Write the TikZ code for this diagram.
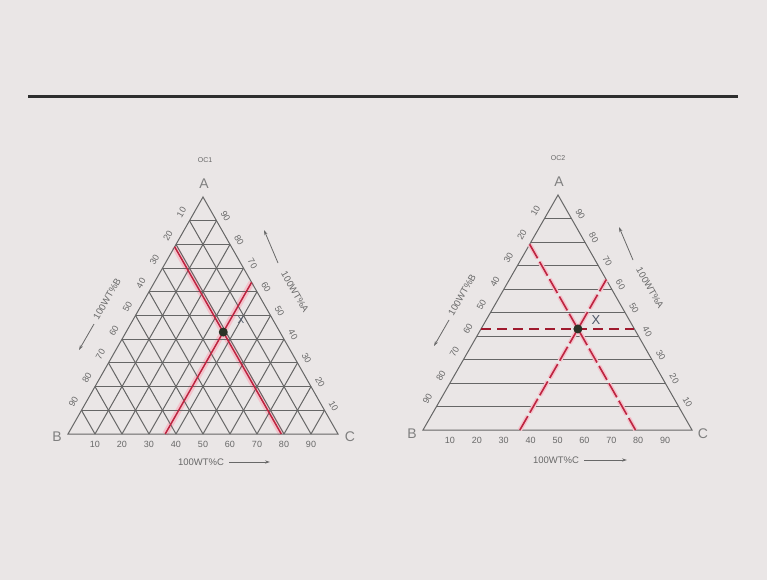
\documentclass[tikz,border=0pt]{standalone}
\usepackage{fontspec}
\setmainfont{Liberation Sans}
\usetikzlibrary{calc,arrows.meta}
\definecolor{bg}{HTML}{EAE6E6}
\definecolor{rulec}{HTML}{2E2E2E}
\definecolor{gridc}{HTML}{666666}
\definecolor{txt}{HTML}{686868}
\definecolor{redc}{HTML}{BE2440}
\definecolor{pinkc}{HTML}{F3C2CB}
\definecolor{darkred}{HTML}{A01A2E}
\definecolor{dotc}{HTML}{2B3326}
\definecolor{xc}{HTML}{4E5868}
\begin{document}
\begin{tikzpicture}[x=1pt,y=-1pt,
  gridline/.style={draw=gridc,line width=1pt},
  numlbl/.style={text=txt,font=\fontsize{9}{9}\selectfont,inner sep=0pt},
  vtx/.style={text=txt!85,font=\fontsize{14}{14}\selectfont,inner sep=0pt},
  capt/.style={text=txt,font=\fontsize{9.5}{9.5}\selectfont,inner sep=0pt},
  ttl/.style={text=txt,font=\fontsize{7}{7}\selectfont,inner sep=0pt},
  capar/.style={draw=txt,line width=0.8pt,-{Stealth[length=5pt,width=3.2pt]}},
  glow/.style={draw=pinkc,line width=6pt},
  redl/.style={draw=redc,line width=1.5pt},
  dashglow/.style={draw=pinkc,line width=4.5pt,dash pattern=on 16pt off 4pt},
  dashred/.style={draw=redc,line width=1.6pt,dash pattern=on 16pt off 4pt},
  hdash/.style={draw=darkred,line width=2.6pt,dash pattern=on 10pt off 6pt},
  dotn/.style={circle,fill=dotc,minimum size=9pt,inner sep=0pt},
  xlbl/.style={text=xc,inner sep=0pt}
]
\fill[bg] (0,0) rectangle (767,580);
\useasboundingbox (0,0) rectangle (767,580);
\draw[draw=rulec,line width=3pt] (28,97) -- (738,97);

% ---------- left triangle ----------
\coordinate (A1) at (203,197);
\coordinate (B1) at (68,434);
\coordinate (C1) at (338,434);
\coordinate (r1a) at ($(A1)!0.21!(B1)$);
\coordinate (r1b) at ($(C1)!0.21!(B1)$);
\coordinate (r1c) at ($(A1)!0.36!(C1)$);
\coordinate (r1d) at ($(B1)!0.36!(C1)$);
\draw[glow] (r1a) -- (r1b);
\draw[glow] (r1c) -- (r1d);
\foreach \i in {1,...,9} {
  \draw[gridline] ($(B1)!\i/10!(A1)$) -- ($(C1)!\i/10!(A1)$);
  \draw[gridline] ($(A1)!\i/10!(B1)$) -- ($(C1)!\i/10!(B1)$);
  \draw[gridline] ($(A1)!\i/10!(C1)$) -- ($(B1)!\i/10!(C1)$);
}
\draw[gridline] (A1) -- (B1) -- (C1) -- cycle;
\foreach \i [evaluate=\i as \v using int(\i*10)] in {1,...,9} {
  \node[numlbl,rotate=60] (lb1\i) at ($(A1)!\i/10!(B1)+(-8,-8.5)$) {\v};
  \node[numlbl,rotate=-60] (rb1\i) at ($(C1)!\i/10!(A1)+(9,-4.5)$) {\v};
  \node[numlbl] (bb1\i) at ($(B1)!\i/10!(C1)+(0,10)$) {\v};
}
\node[vtx] (vA1) at (204,184) {A};
\node[vtx] (vB1) at (57,437) {B};
\node[vtx] (vC1) at (350,437) {C};
\node[ttl] (t1) at (205,160) {OC1};
\node[capt,rotate=60] (cB1) at (107,299) {100WT\%B};
\coordinate (aB1s) at (94,324); \coordinate (aB1e) at (79,350);
\draw[capar] (aB1s) -- (aB1e);
\node[capt,rotate=-60] (cA1) at (295,292) {100WT\%A};
\coordinate (aA1s) at (278,263); \coordinate (aA1e) at (264,230);
\draw[capar] (aA1s) -- (aA1e);
\node[capt] (cC1) at (201,462) {100WT\%C};
\coordinate (aC1s) at (229,462); \coordinate (aC1e) at (270,462);
\draw[capar] (aC1s) -- (aC1e);
\draw[redl] (r1a) -- (r1b);
\draw[redl] (r1c) -- (r1d);
\node[dotn] (P1) at (barycentric cs:A1=0.43,B1=0.21,C1=0.36) {};
\node[xlbl,font=\fontsize{10}{10}\selectfont] (X1) at (241,320) {X};

% ---------- right triangle ----------
\coordinate (A2) at (558,195);
\coordinate (B2) at (423,430);
\coordinate (C2) at (692,430);
\foreach \i in {1,...,9} {
  \draw[gridline] ($(B2)!\i/10!(A2)$) -- ($(C2)!\i/10!(A2)$);
}
\draw[gridline] (A2) -- (B2) -- (C2) -- cycle;
\foreach \i [evaluate=\i as \v using int(\i*10)] in {1,...,9} {
  \node[numlbl,rotate=60] (lb2\i) at ($(A2)!\i/10!(B2)+(-9,-7.5)$) {\v};
  \node[numlbl,rotate=-60] (rb2\i) at ($(C2)!\i/10!(A2)+(9,-4.5)$) {\v};
  \node[numlbl] (bb2\i) at ($(B2)!\i/10!(C2)+(0,10)$) {\v};
}
\node[vtx] (vA2) at (559,182) {A};
\node[vtx] (vB2) at (412,434) {B};
\node[vtx] (vC2) at (703,434) {C};
\node[ttl] (t2) at (558,158) {OC2};
\node[capt,rotate=60] (cB2) at (462,295) {100WT\%B};
\coordinate (aB2s) at (449,320); \coordinate (aB2e) at (434,346);
\draw[capar] (aB2s) -- (aB2e);
\node[capt,rotate=-60] (cA2) at (650,288) {100WT\%A};
\coordinate (aA2s) at (633,260); \coordinate (aA2e) at (619,227);
\draw[capar] (aA2s) -- (aA2e);
\node[capt] (cC2) at (556,460) {100WT\%C};
\coordinate (aC2s) at (584,460); \coordinate (aC2e) at (627,460);
\draw[capar] (aC2s) -- (aC2e);
% red dashed lines
\coordinate (r2a) at ($(A2)!0.21!(B2)$);
\coordinate (r2b) at ($(C2)!0.21!(B2)$);
\coordinate (r2c) at ($(A2)!0.36!(C2)$);
\coordinate (r2d) at ($(B2)!0.36!(C2)$);
\coordinate (r2e) at ($(B2)!0.43!(A2)$);
\coordinate (r2f) at ($(C2)!0.43!(A2)$);
\draw[dashglow] (r2a) -- (r2b);
\draw[dashglow] (r2d) -- (r2c);
\draw[dashred] (r2a) -- (r2b);
\draw[dashred] (r2d) -- (r2c);
\draw[hdash] (r2e) -- (r2f);
\node[dotn] (P2) at (barycentric cs:A2=0.43,B2=0.21,C2=0.36) {};
\node[xlbl,font=\fontsize{13}{13}\selectfont] (X2) at (596,320) {X};
\end{tikzpicture}
\end{document}
